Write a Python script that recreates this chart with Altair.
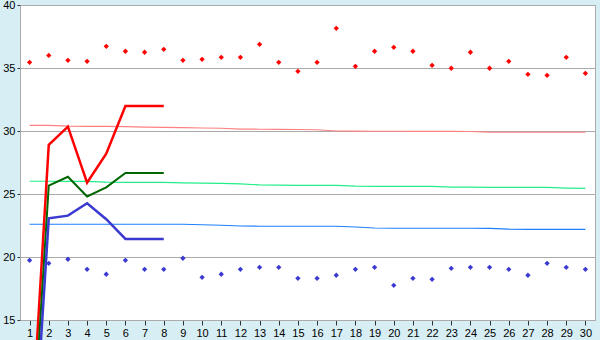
import altair as alt
import pandas as pd

cats = list(range(1, 31))

red_pts = [35.45, 36.0, 35.61, 35.53, 36.72, 36.33, 36.25, 36.48, 35.61, 35.69,
           35.85, 35.85, 36.88, 35.45, 34.74, 35.45, 38.15, 35.13, 36.33, 36.64,
           36.33, 35.21, 34.98, 36.25, 34.98, 35.53, 34.5, 34.42, 35.85, 34.58]
blue_pts = [19.74, 19.5, 19.82, 19.02, 18.63, 19.74, 19.02, 19.02, 19.9, 18.39,
            18.63, 19.02, 19.18, 19.18, 18.31, 18.31, 18.55, 19.02, 19.18, 17.75,
            18.31, 18.23, 19.1, 19.18, 19.18, 19.02, 18.55, 19.5, 19.18, 19.02]

pink_avg = [30.45, 30.44, 30.38, 30.37, 30.36, 30.35, 30.3, 30.28, 30.26, 30.24,
            30.22, 30.15, 30.14, 30.13, 30.12, 30.1, 30.0, 29.99, 29.98, 29.98,
            29.97, 29.97, 29.97, 29.96, 29.91, 29.9, 29.9, 29.9, 29.9, 29.9]
lgreen_avg = [26.01, 26.01, 26.0, 26.0, 25.94, 25.93, 25.93, 25.92, 25.88, 25.86,
              25.85, 25.8, 25.72, 25.7, 25.69, 25.69, 25.68, 25.62, 25.61, 25.61,
              25.61, 25.6, 25.55, 25.54, 25.53, 25.53, 25.53, 25.52, 25.47, 25.45]
lblue_avg = [22.6, 22.6, 22.6, 22.6, 22.6, 22.6, 22.6, 22.6, 22.6, 22.56,
             22.52, 22.46, 22.44, 22.44, 22.44, 22.44, 22.44, 22.38, 22.3, 22.28,
             22.28, 22.28, 22.28, 22.28, 22.27, 22.21, 22.2, 22.2, 22.2, 22.2]

short_cats = [1, 2, 3, 4, 5, 6, 7, 8]
red_line = [3.5, 28.9, 30.34, 25.9, 28.2, 31.98, 31.98, 31.98]
green_line = [1.5, 25.66, 26.37, 24.8, 25.53, 26.67, 26.67, 26.67]
blue_line = [-0.8, 23.07, 23.28, 24.26, 23.0, 21.43, 21.43, 21.43]

y_ticks = [15, 20, 25, 30, 35, 40]

FONT = "Liberation Sans"

xscale = alt.Scale(domain=[0.5, 30.5], nice=False, zero=False)
yscale = alt.Scale(domain=[15, 40], nice=False, zero=False)

xaxis = alt.Axis(values=cats, title=None, grid=False, tickSize=5, tickColor="#333333",
                 domainColor="#AAAAAA", labelFont=FONT, labelFontSize=11,
                 labelColor="#000000", labelPadding=2, labelAngle=0, format="d")
yaxis = alt.Axis(values=y_ticks, title=None, grid=True, gridColor="#AAAAAA",
                 tickSize=3, tickColor="#333333", domainColor="#AAAAAA",
                 labelFont=FONT, labelFontSize=11, labelColor="#000000",
                 labelPadding=2, format="d")


def line_layer(xs, ys, color, width):
    df = pd.DataFrame({"x": xs, "y": ys})
    return alt.Chart(df).mark_line(color=color, strokeWidth=width, clip=False).encode(
        x=alt.X("x:Q", scale=xscale, axis=xaxis),
        y=alt.Y("y:Q", scale=yscale, axis=yaxis),
    )


def point_layer(xs, ys, color):
    df = pd.DataFrame({"x": xs, "y": ys})
    return alt.Chart(df).mark_point(shape="diamond", filled=True, color=color,
                                    size=28, opacity=1).encode(
        x=alt.X("x:Q", scale=xscale, axis=xaxis),
        y=alt.Y("y:Q", scale=yscale, axis=yaxis),
    )


chart = alt.layer(
    line_layer(cats, pink_avg, "#FF8080", 1.2),
    line_layer(cats, lgreen_avg, "#22EE88", 1.2),
    line_layer(cats, lblue_avg, "#1E7FFF", 1.2),
    line_layer(short_cats, red_line, "#FF0000", 2.5),
    line_layer(short_cats, green_line, "#006600", 2.0),
    line_layer(short_cats, blue_line, "#3A3AD0", 2.5),
    point_layer(cats, red_pts, "#FF0000"),
    point_layer(cats, blue_pts, "#3A3AD0"),
).properties(
    width=575,
    height=315,
    background="#D8EEF5",
    padding={"left": 20, "top": 5, "right": 5, "bottom": 20},
    autosize=alt.AutoSizeParams(type="none"),
).configure_view(
    fill="#FFFFFF",
    stroke="#AAAAAA",
)

chart.save("out.html", embed_options={"renderer": "svg", "actions": False})
